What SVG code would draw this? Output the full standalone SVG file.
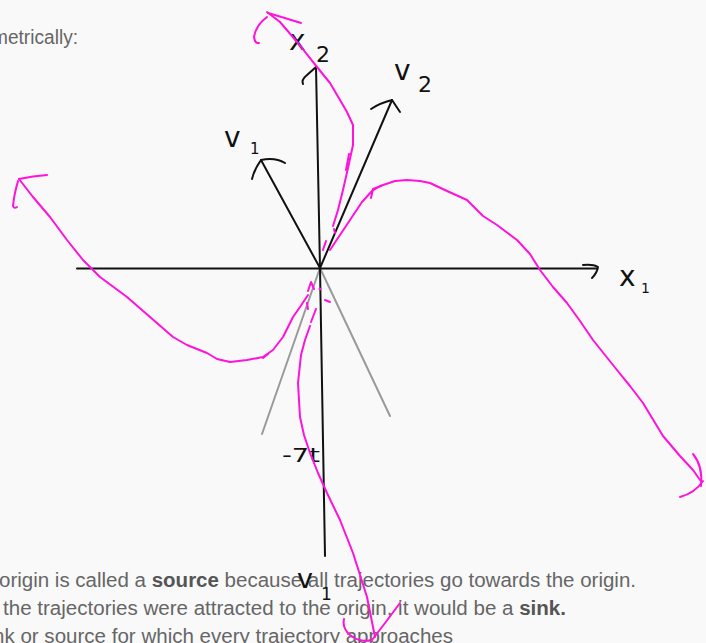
<svg xmlns="http://www.w3.org/2000/svg" width="706" height="643" viewBox="0 0 706 643">
<style>
.bg{fill:#f9f9f9}
.t{font-family:"Liberation Sans",Arial,sans-serif;font-size:20px;fill:#666}
.b{font-weight:bold;fill:#555}
.ax{stroke:#111;stroke-width:2;fill:none;stroke-linecap:round;stroke-linejoin:round}
.gr{stroke:#9a9a9a;stroke-width:2;fill:none;stroke-linecap:round}
.mg{stroke:#ff12dc;stroke-width:2;fill:none;stroke-linecap:round;stroke-linejoin:round}
.lb{font-family:"DejaVu Sans","Liberation Sans",sans-serif;fill:#111}
</style>
<rect class="bg" x="0" y="0" width="706" height="643"/>

<g id="page-text">
<text class="t" x="-8" y="44" font-size="19" textLength="86" lengthAdjust="spacingAndGlyphs">metrically:</text>
<text class="t" x="-1" y="587" textLength="637" lengthAdjust="spacingAndGlyphs">origin is called a <tspan class="b">source</tspan> because all trajectories go towards the origin.</text>
<text class="t" x="3" y="615" textLength="563" lengthAdjust="spacingAndGlyphs">the trajectories were attracted to the origin, it would be a <tspan class="b">sink.</tspan></text>
<text class="t" x="-7" y="643" textLength="460" lengthAdjust="spacingAndGlyphs">nk or source for which every trajectory approaches</text>
</g>

<g id="eigen-lines">
<path class="gr" d="M320,268 L262,434"/>
<path class="gr" d="M320,268 L390,416"/>
</g>

<g id="axes">
<g id="x1-axis">
<path class="ax" d="M77,268.5 L597,268.5"/>
<path class="ax" d="M583,265 Q593,264 598,267 Q597,273 592,278"/>
</g>
<g id="x2-axis">
<path class="ax" d="M316,67 L320,268 L325,556"/>
<path class="ax" d="M303,84 Q301,80 307,75 L316,67"/>
</g>
</g>

<g id="vectors">
<g id="v1-vector">
<path class="ax" d="M320,268 L261,160"/>
<path class="ax" d="M252,179 Q254,170 261,160 Q275,157 285,163"/>
</g>
<g id="v2-vector">
<path class="ax" d="M320,268 L392,100"/>
<path class="ax" d="M371,109 Q380,103 392,100 L400,112" stroke-width="2.5"/>
</g>
</g>

<g id="labels">
<text class="lb" x="289" y="50" font-size="28">x</text>
<text class="lb" x="316" y="62" font-size="22">2</text>
<text class="lb" x="224" y="147" font-size="28">v</text>
<text class="lb" x="250" y="154" font-size="15">1</text>
<text class="lb" x="394" y="80" font-size="28">v</text>
<text class="lb" x="418" y="92" font-size="22">2</text>
<text class="lb" x="619" y="286" font-size="28">x</text>
<text class="lb" x="641" y="293" font-size="14">1</text>
<text class="lb" x="282" y="462" font-size="20" textLength="38" lengthAdjust="spacingAndGlyphs">-7t</text>
<text class="lb" x="297" y="588" font-size="27">v</text>
<text class="lb" x="321" y="600" font-size="17">1</text>
</g>

<g id="trajectories">
<g id="trajectory-top">
<path class="mg" d="M323,250 L326,241 M333,226 L338,210 L343,190 L348,168 L353,145 L353,125 L347,112 L340,100 L330,83 L317,67 L298,43 L280,22 L267,12"/>
<path class="mg" d="M346,170 Q348,160 349,154"/>
<path class="mg" d="M268,13 Q285,18 301,23"/>
<path class="mg" d="M267,17 Q256,25 254,37 Q255,44 259,43"/>
</g>
<g id="trajectory-right">
<path class="mg" d="M330,250 L340,235 L350,220 L362,202 L372,191 L380,186 L395,181 L407,180 L420,181 L430,183 L447,191 L467,200 L483,216 L497,225 L517,240 L530,254 L540,270 L553,287 L567,303 L580,321 L593,340 L605,355 L617,370 L630,386 L643,403 L663,436 L680,456 L693,470 L700,480"/>
<path class="mg" d="M371,198 L373,189 L381,186"/>
<path class="mg" d="M693,454 Q703,466 701,486"/>
<path class="mg" d="M680,497 Q695,493 703,481"/>
</g>
<g id="trajectory-left">
<path class="mg" d="M308,295 L300,307 L293,317 L283,337 L273,350 L263,357 L247,360 L230,362 L217,359 L207,353 L187,345 L173,337 L150,317 L127,297 L100,277 L83,260 L67,240 L50,217 L33,197 L19,179"/>
<path class="mg" d="M19,179 Q33,176 47,175"/>
<path class="mg" d="M18,181 Q14,195 13,206 Q14,209 17,207"/>
<path class="mg" d="M263,358 L268,354"/>
</g>
<g id="trajectory-bottom">
<path class="mg" d="M316,309 L311,322" stroke-width="3.5"/>
<path class="mg" d="M310,326 L305,340 L301,355 L298,383 L300,417 L304,435 L310,453 L318,473 L327,493 L340,520 L353,553 L367,597 L375,637"/>
<path class="mg" d="M344,619 Q342,628 350,635 Q360,643 372,640 Q386,622 400,603"/>
</g>
<g id="origin-marks">
<path class="mg" d="M308,291 L311,282 L314,289"/>
<circle cx="320" cy="289" r="1.5" fill="#ff12dc"/>
<path class="mg" d="M325,300 L330,302"/>
<path class="mg" d="M307,303 L308,309"/>
<path class="mg" d="M334,229 L335,233"/>
</g>
</g>
</svg>
